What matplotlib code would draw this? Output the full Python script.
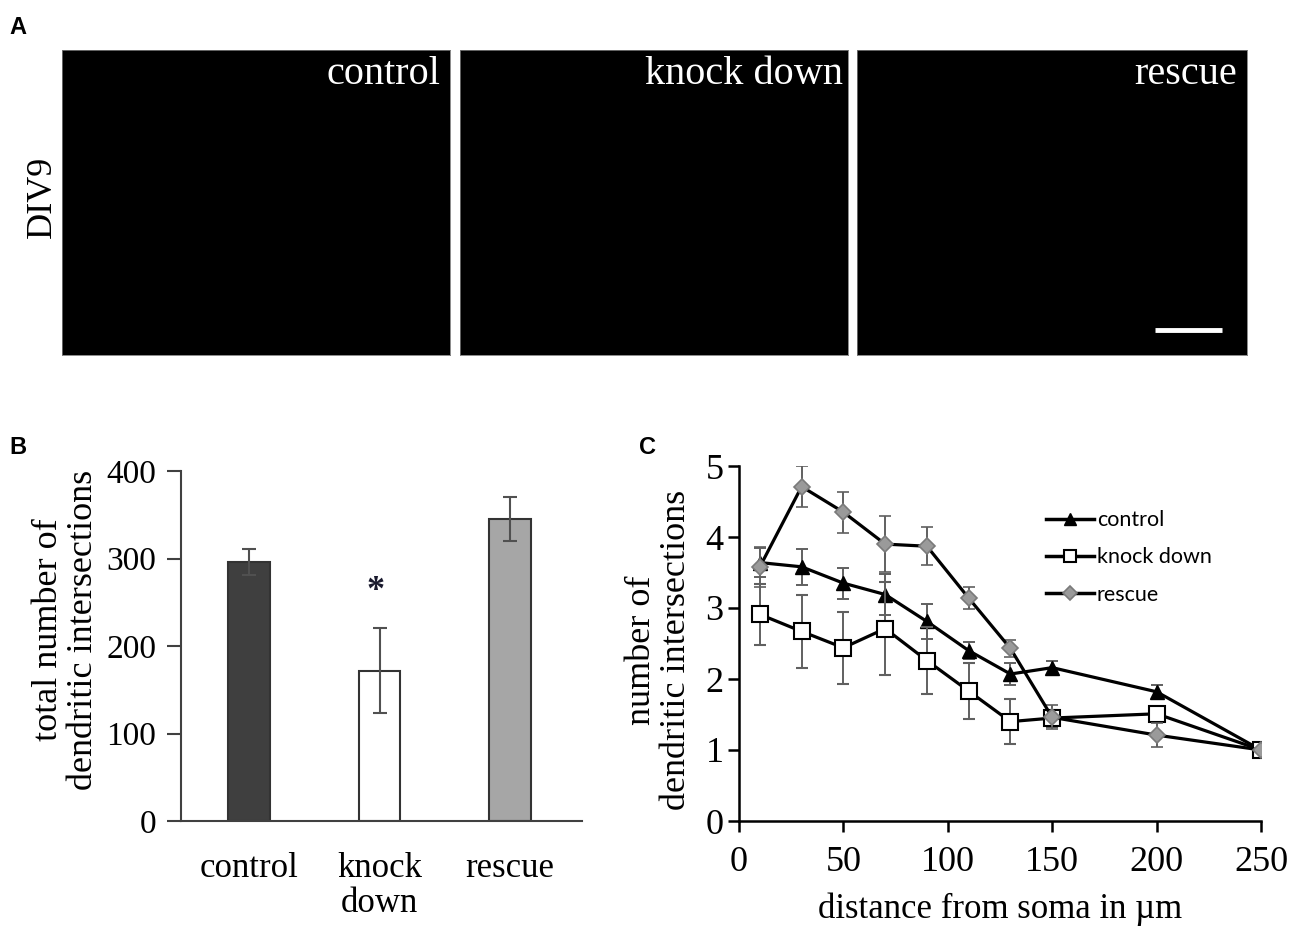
import matplotlib
matplotlib.use("Agg")
import matplotlib.pyplot as plt

plt.rcParams['font.family'] = ['Liberation Serif', 'DejaVu Serif']

# panel A
image_titles = ["control", "knock down", "rescue"]

# panel B: total intersections per condition
groups = ["control", "knock\ndown", "rescue"]
totals = [296, 172, 345]
totals_err = [15, 49, 25]
bar_colors = ["#3f3f3f", "#ffffff", "#a6a6a6"]
star_value = 262

# panel C: Sholl profile
distance = [10, 30, 50, 70, 90, 110, 130, 150, 200, 250]
ctrl = [3.64, 3.58, 3.35, 3.19, 2.81, 2.40, 2.07, 2.16, 1.82, 1.0]
ctrl_err = [0.21, 0.25, 0.22, 0.29, 0.25, 0.12, 0.15, 0.10, 0.10, 0.0]
kd = [2.91, 2.67, 2.44, 2.71, 2.26, 1.83, 1.40, 1.45, 1.51, 1.0]
kd_err = [0.43, 0.51, 0.51, 0.65, 0.47, 0.39, 0.32, 0.12, 0.08, 0.0]
resc = [3.58, 4.71, 4.35, 3.90, 3.87, 3.14, 2.43, 1.46, 1.21, 1.0]
resc_err = [0.28, 0.29, 0.29, 0.39, 0.27, 0.16, 0.12, 0.17, 0.17, 0.0]

W, H = 1300, 931
fig = plt.figure(figsize=(13, 9.31), dpi=100)

def px_axes(x0, y0, x1, y1):
    return fig.add_axes([x0 / W, 1 - y1 / H, (x1 - x0) / W, (y1 - y0) / H])

# ---- A: image panels (black frames) ----
img_boxes = [(62, 50, 450, 355), (460, 50, 848, 355), (857, 50, 1247, 355)]
label_x = [0.975, 0.987, 0.975]
for box, title, lx in zip(img_boxes, image_titles, label_x):
    a = px_axes(*box)
    a.set_facecolor("black")
    a.set_xticks([])
    a.set_yticks([])
    for s in a.spines.values():
        s.set_color("#777777")
        s.set_linewidth(0.6)
    a.text(lx, 0.98, title, transform=a.transAxes, ha="right", va="top",
           color="white", fontsize=29)
    if title == "rescue":
        a.plot([0.764, 0.936], [0.082, 0.082], color="white", lw=3.5,
               transform=a.transAxes, solid_capstyle="butt")

fig.text(42 / W, 1 - 197 / H, "DIV9", rotation=90, ha="center", va="center", fontsize=26)

# panel letters
for lbl, x, y in [("A", 18, 28), ("B", 18, 448), ("C", 648, 448)]:
    fig.text(x / W, 1 - y / H, lbl, ha="center", va="center", fontsize=17,
             fontweight="bold", family="Liberation Sans")

# ---- B: bar chart ----
axb = px_axes(181, 471, 582, 821)
pos = list(range(len(groups)))
axb.bar(pos, totals, width=0.32, color=bar_colors, edgecolor="#333333", linewidth=1.5,
        zorder=2)
axb.errorbar(pos, totals, yerr=totals_err, fmt="none", ecolor="#505050", elinewidth=1.5,
             capsize=5, capthick=1.5, zorder=3)
axb.text(pos[1] - 0.03, star_value, "*", ha="center", va="center", fontsize=26,
         fontweight="bold", color="#1a1a2e")
axb.set_xlim(-0.52, 2.55)
axb.set_ylim(0, 400)
axb.set_yticks([0, 100, 200, 300, 400])
axb.set_xticks(pos)
axb.set_xticklabels(groups, fontsize=25, linespacing=1.1)
axb.tick_params(axis="x", length=0, pad=22)
axb.tick_params(axis="y", direction="out", length=10, width=1.5, color="#404040",
                labelsize=24, pad=8)
for s in ["top", "right"]:
    axb.spines[s].set_visible(False)
for s in ["left", "bottom"]:
    axb.spines[s].set_color("#404040")
    axb.spines[s].set_linewidth(1.5)
fig.text(66 / W, 1 - 630 / H, "total number of\ndendritic intersections", rotation=90,
         ha="center", va="center", fontsize=26, multialignment="center", linespacing=1.1)

# ---- C: line chart ----
axc = px_axes(739, 466, 1261, 821)
ebar = dict(ecolor="#606060", elinewidth=1.4, capsize=4, capthick=1.4)
axc.errorbar(distance, ctrl, yerr=ctrl_err, color="black", lw=2.3, marker="^", ms=10,
             mfc="black", mec="black", label="control", zorder=3, **ebar)
axc.errorbar(distance, kd, yerr=kd_err, color="black", lw=2.3, marker="s", ms=11,
             mfc="white", mec="black", mew=1.5, label="knock down", zorder=4, **ebar)
axc.errorbar(distance, resc, yerr=resc_err, color="black", lw=2.3, marker="D", ms=8,
             mfc="#9a9a9a", mec="#7a7a7a", mew=1.2, label="rescue", zorder=5, **ebar)
axc.set_xlim(0, 250)
axc.set_ylim(0, 5)
axc.set_xticks([0, 50, 100, 150, 200, 250])
axc.set_yticks([0, 1, 2, 3, 4, 5])
axc.tick_params(axis="both", direction="out", length=8, width=1.8, labelsize=26)
axc.tick_params(axis="x", pad=10)
axc.tick_params(axis="y", pad=3)
for s in ["top", "right"]:
    axc.spines[s].set_visible(False)
for s in ["left", "bottom"]:
    axc.spines[s].set_linewidth(1.8)
axc.set_xlabel("distance from soma in µm", fontsize=25, labelpad=10)
fig.text(659 / W, 1 - 650 / H, "number of\ndendritic intersections", rotation=90,
         ha="center", va="center", fontsize=26, multialignment="center", linespacing=1.1)

handles, labels = axc.get_legend_handles_labels()
handles = [h[0] for h in handles]
leg = axc.legend(handles, labels, loc="upper left", bbox_to_anchor=(0.572, 0.9),
                 frameon=False, prop={"family": "Lato", "size": 15.5},
                 handlelength=2.2, handletextpad=0.15, labelspacing=0.8,
                 borderaxespad=0)
for h in leg.legend_handles:
    h.set_linewidth(2.5)
    h.set_markersize(h.get_markersize() * 0.85)

fig.savefig("out.png", dpi=100)
